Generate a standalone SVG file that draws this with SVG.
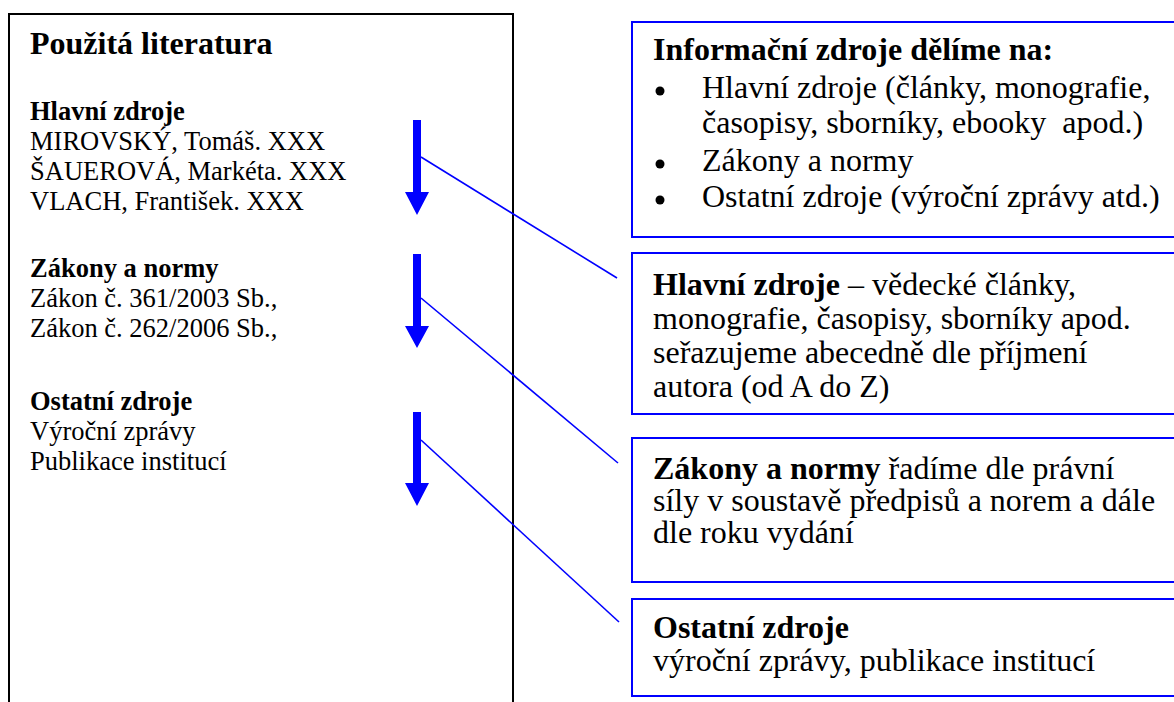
<svg xmlns="http://www.w3.org/2000/svg" width="1174" height="702" viewBox="0 0 1174 702" font-family="'Liberation Serif', Tinos, 'Times New Roman', 'DejaVu Serif', serif">
<style>
text{font-family:"Liberation Serif",Tinos,"Times New Roman","DejaVu Serif",serif;fill:#000}
.t{font-size:32px;font-weight:bold}
.lb{font-size:26.5px;font-weight:bold}
.l{font-size:26.5px}
.r{font-size:32px}
.b{font-weight:bold}
.box{fill:#fff;stroke:#0000ff;stroke-width:2}
.arr{fill:#0000ff}
.con{stroke:#0000ff;stroke-width:1.6;fill:none}
</style>
<rect width="1174" height="702" fill="#fff"/>
<g id="literatura">
<rect x="9" y="14" width="504" height="720" fill="#fff" stroke="#000" stroke-width="2"/>
<text class="t" x="30" y="54">Použitá literatura</text>
<text class="lb" x="30" y="120">Hlavní zdroje</text>
<text class="l" x="30" y="150">MIROVSKÝ, Tomáš. XXX</text>
<text class="l" x="30" y="180">ŠAUEROVÁ, Markéta. XXX</text>
<text class="l" x="30" y="210">VLACH, František. XXX</text>
<text class="lb" x="30" y="277">Zákony a normy</text>
<text class="l" x="30" y="307">Zákon č. 361/2003 Sb.,</text>
<text class="l" x="30" y="337">Zákon č. 262/2006 Sb.,</text>
<text class="lb" x="30" y="410">Ostatní zdroje</text>
<text class="l" x="30" y="440">Výroční zprávy</text>
<text class="l" x="30" y="470">Publikace institucí</text>
</g>
<g id="arrow1"><path class="arr" d="M413,120 H421 V192 H429 L417,215 L405,192 H413 Z"/></g>
<g id="arrow2"><path class="arr" d="M413,254 H421 V326 H429 L417,348 L405,326 H413 Z"/></g>
<g id="arrow3"><path class="arr" d="M413,412 H421 V483 H429 L417,506 L405,483 H413 Z"/></g>
<g id="info">
<rect class="box" x="632" y="22" width="600" height="215"/>
<text class="r b" x="653" y="60">Informační zdroje dělíme na:</text>
<circle cx="660" cy="91" r="4.5"/>
<text class="r" x="702" y="98">Hlavní zdroje (články, monografie,</text>
<text class="r" x="702" y="133">časopisy, sborníky, ebooky&#160; apod.)</text>
<circle cx="660" cy="164" r="4.5"/>
<text class="r" x="702" y="171">Zákony a normy</text>
<circle cx="660" cy="200" r="4.5"/>
<text class="r" x="702" y="207">Ostatní zdroje (výroční zprávy atd.)</text>
</g>
<g id="hlavni">
<rect class="box" x="632" y="253" width="600" height="161"/>
<text class="r" x="653" y="295"><tspan class="b">Hlavní zdroje</tspan> – vědecké články,</text>
<text class="r" x="653" y="329">monografie, časopisy, sborníky apod.</text>
<text class="r" x="653" y="363">seřazujeme abecedně dle příjmení</text>
<text class="r" x="653" y="397">autora (od A do Z)</text>
</g>
<g id="zakony">
<rect class="box" x="632" y="438" width="600" height="144"/>
<text class="r" x="653" y="479"><tspan class="b">Zákony a normy</tspan> řadíme dle právní</text>
<text class="r" x="653" y="511">síly v soustavě předpisů a norem a dále</text>
<text class="r" x="653" y="543">dle roku vydání</text>
</g>
<g id="ostatni">
<rect class="box" x="632" y="599" width="600" height="97"/>
<text class="r b" x="653" y="638">Ostatní zdroje</text>
<text class="r" x="653" y="671">výroční zprávy, publikace institucí</text>
</g>
<g id="connectors">
<line class="con" x1="421" y1="157" x2="617" y2="278"/>
<line class="con" x1="421" y1="298" x2="618" y2="463"/>
<line class="con" x1="421" y1="440" x2="619" y2="622"/>
</g>
</svg>
